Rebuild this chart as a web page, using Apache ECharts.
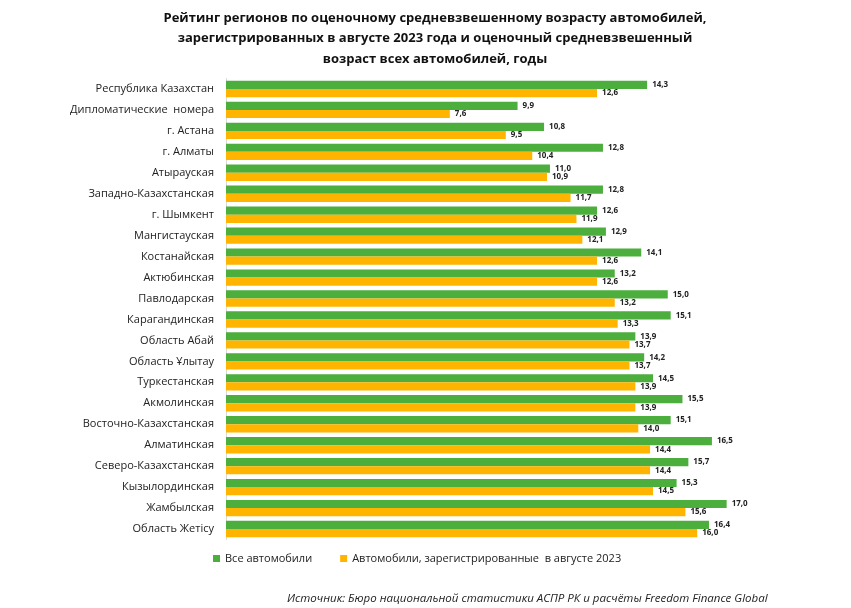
<!DOCTYPE html>
<html><head><meta charset="utf-8">
<script src="https://cdn.jsdelivr.net/npm/echarts@6/dist/echarts.min.js"></script>
<style>html,body{margin:0;padding:0;background:#fff}#c{width:851px;height:608px}</style>
</head><body><div id="c"></div>
<script>
const categories = ["Республика Казахстан","Дипломатические  номера","г. Астана","г. Алматы","Атырауская","Западно-Казахстанская","г. Шымкент","Мангистауская","Костанайская","Актюбинская","Павлодарская","Карагандинская","Область Абай","Область Ұлытау","Туркестанская","Акмолинская","Восточно-Казахстанская","Алматинская","Северо-Казахстанская","Кызылординская","Жамбылская","Область Жетісу"];
const allCars = [14.3,9.9,10.8,12.8,11.0,12.8,12.6,12.9,14.1,13.2,15.0,15.1,13.9,14.2,14.5,15.5,15.1,16.5,15.7,15.3,17.0,16.4];
const augCars = [12.6,7.6,9.5,10.4,10.9,11.7,11.9,12.1,12.6,12.6,13.2,13.3,13.7,13.7,13.9,13.9,14.0,14.4,14.4,14.5,15.6,16.0];
const seriesNames = ["Все автомобили","Автомобили, зарегистрированные  в августе 2023"];
const titleText = "Рейтинг регионов по оценочному средневзвешенному возрасту автомобилей,\nзарегистрированных в августе 2023 года и оценочный средневзвешенный\nвозраст всех автомобилей, годы";
const sourceText = "Источник: Бюро национальной статистики АСПР РК и расчёты Freedom Finance Global";

const FONT = "'Open Sans', 'Noto Sans', sans-serif";
const fmt = p => p.value.toFixed(1).replace('.', ',');
const lbl = {show:true, position:'right', distance:5, formatter:fmt, fontSize:8, fontWeight:'bold', color:'#222', fontFamily:FONT};

const chart = echarts.init(document.getElementById('c'));
chart.setOption({
  animation:false,
  backgroundColor:'#fff',
  title:[
    {text:titleText, left:430, top:3, textAlign:'center',
     textStyle:{fontSize:13, fontWeight:'bold', color:'#111', fontFamily:FONT, lineHeight:20.5}},
    {text:sourceText, left:282, top:588,
     textStyle:{fontSize:11.5, fontStyle:'italic', fontWeight:'normal', color:'#222', fontFamily:FONT}}
  ],
  legend:{left:208, top:548, itemWidth:7, itemHeight:7, itemGap:28, icon:'rect',
    textStyle:{fontSize:11, color:'#222', fontFamily:FONT}, data:seriesNames},
  grid:{left:226, right:36, top:78.5, bottom:68.5, containLabel:false},
  xAxis:{type:'value', min:0, max:20, show:false},
  yAxis:{type:'category', data:categories, inverse:true,
    axisLine:{show:true, lineStyle:{color:'#d9d9d9', width:1}},
    axisTick:{show:false},
    axisLabel:{fontSize:11, color:'#222', margin:12, fontFamily:FONT}},
  series:[
    {name:seriesNames[0], type:'bar', data:allCars, itemStyle:{color:'#4CAE3C'},
     barGap:'0%', barCategoryGap:'22%', label:lbl},
    {name:seriesNames[1], type:'bar', data:augCars, itemStyle:{color:'#FFB400'},
     barGap:'0%', barCategoryGap:'22%', label:lbl}
  ]
});
</script></body></html>
